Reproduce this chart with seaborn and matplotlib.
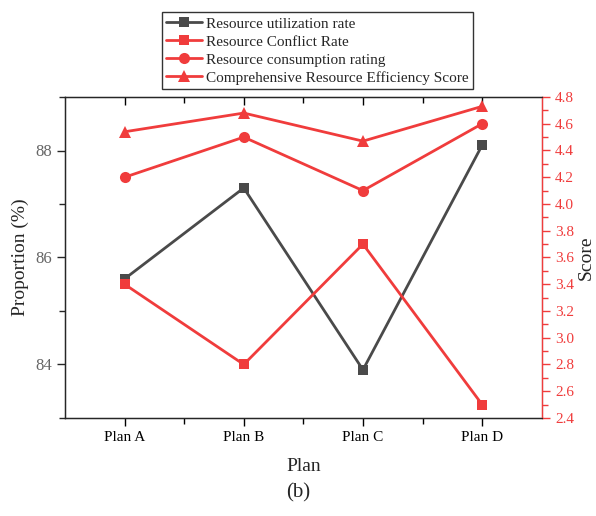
import pandas as pd
import matplotlib.pyplot as plt
import seaborn as sns

### ---------------- DATA ---------------- ###
plans = ["Plan A", "Plan B", "Plan C", "Plan D"]
utilization_rate = [85.6, 87.3, 83.9, 88.1]          # left axis (%)
conflict_rate = [3.4, 2.8, 3.7, 2.5]                  # right axis (score)
consumption_rating = [4.2, 4.5, 4.1, 4.6]             # right axis (score)
efficiency_score = [4.54, 4.68, 4.47, 4.73]           # right axis (score)

GRAY = "#4a4a4a"
RED = "#f03c3c"

df = pd.DataFrame({
    "Plan": plans,
    "Resource utilization rate": utilization_rate,
    "Resource Conflict Rate": conflict_rate,
    "Resource consumption rating": consumption_rating,
    "Comprehensive Resource Efficiency Score": efficiency_score,
})

sns.set_style("ticks")
plt.rcParams["font.family"] = ["Liberation Serif", "DejaVu Serif"]

fig = plt.figure(figsize=(5.96, 5.16), dpi=100)
ax = fig.add_axes([0.109, 0.19, 0.80, 0.622])
ax2 = ax.twinx()

line_kw = dict(linewidth=2, markeredgewidth=0)
sns.lineplot(data=df, x="Plan", y="Resource utilization rate", ax=ax, color=GRAY,
             marker="s", markersize=7.5, label="Resource utilization rate", legend=False, **line_kw)
sns.lineplot(data=df, x="Plan", y="Resource Conflict Rate", ax=ax2, color=RED,
             marker="s", markersize=7.5, label="Resource Conflict Rate", legend=False, **line_kw)
sns.lineplot(data=df, x="Plan", y="Resource consumption rating", ax=ax2, color=RED,
             marker="o", markersize=8, label="Resource consumption rating", legend=False, **line_kw)
sns.lineplot(data=df, x="Plan", y="Comprehensive Resource Efficiency Score", ax=ax2, color=RED,
             marker="^", markersize=8, label="Comprehensive Resource Efficiency Score",
             legend=False, **line_kw)

# axes ranges and ticks
ax.set_xlim(-0.5, 3.5)
ax.set_ylim(83, 89)
ax.set_yticks([84, 86, 88])
ax.set_yticks([83, 85, 87, 89], minor=True)
ax.set_xticks([0.5, 1.5, 2.5], minor=True)
ax2.set_ylim(2.4, 4.8)
ax2.set_yticks([2.4 + 0.2 * i for i in range(13)])
ax2.set_yticks([2.5 + 0.2 * i for i in range(12)], minor=True)
ax2.set_yticklabels([f"{2.4 + 0.2 * i:.1f}" for i in range(13)])

ax.set_xlabel("Plan", fontsize=14, labelpad=10)
ax.set_ylabel("Proportion (%)", fontsize=14, labelpad=4)
ax2.set_ylabel("Score", fontsize=14, labelpad=3)

ax.tick_params(axis="x", which="both", direction="out", top=True, labelsize=11, colors="black")
ax.tick_params(axis="x", which="major", length=6, width=1)
ax.tick_params(axis="x", which="minor", length=4, width=1)
ax.tick_params(axis="y", which="major", length=6, width=1, labelsize=12, labelcolor="#666666")
ax.tick_params(axis="y", which="minor", length=4, width=1)
ax2.tick_params(axis="y", which="major", length=6, width=1, labelsize=11, colors=RED)
ax2.tick_params(axis="y", which="minor", length=4, width=1, colors=RED)
ax2.spines["right"].set_color(RED)
for s in ["left", "top", "bottom"]:
    ax.spines[s].set_color("#222222")
    ax.spines[s].set_linewidth(1)
ax2.spines["right"].set_linewidth(1)
ax.grid(False)
ax2.grid(False)

# top ticks point inward
for t in ax.xaxis.get_major_ticks() + ax.xaxis.get_minor_ticks():
    t.tick2line.set_marker(3)

h1, l1 = ax.get_legend_handles_labels()
h2, l2 = ax2.get_legend_handles_labels()
leg = fig.legend(h1 + h2, l1 + l2, loc="lower center", bbox_to_anchor=(0.533, 0.827),
                 frameon=True, fancybox=False, edgecolor="black", fontsize=11,
                 labelspacing=0.28, handlelength=2.3, handletextpad=0.3,
                 borderpad=0.3, borderaxespad=0)
leg.get_frame().set_linewidth(1)

fig.text(0.5, 0.035, "(b)", ha="center", fontsize=15)

fig.savefig("out.png", dpi=100)
